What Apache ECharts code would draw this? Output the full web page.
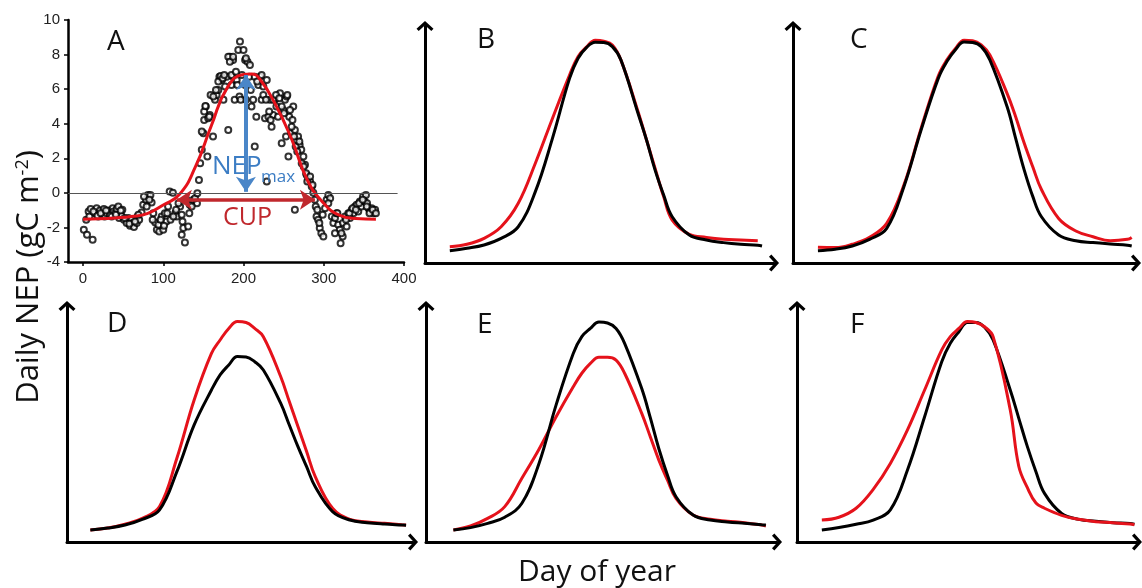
<!DOCTYPE html>
<html><head><meta charset="utf-8">
<script src="https://cdn.jsdelivr.net/npm/echarts@6/dist/echarts.min.js"></script>
<style>html,body{margin:0;padding:0;background:#fff}#chart{width:1142px;height:588px}</style>
</head><body><div id="chart"></div>
<script>
// ---------- DATA ----------
const panelLetters = ['A', 'B', 'C', 'D', 'E', 'F'];
const xTicksA = [0, 100, 200, 300, 400];

// Panel A: observed daily NEP (day of year, gC m-2)
const scatterDays = [1,5,12,4,7,9.5,15,17,19,21,23,26,27,29.5,31.6,33.6,37,38,40,42,44,45,48,49,51,54.4,56.5,58.6,60.6,62,63.5,67,68,70,73,75,78.5,81,84,85.5,87.6,90,92,95,98,100,102,104,106,108,112,115,117,121,123,124,125,123,127,131,133,137.5,142,144.5,146,148,150,151,153,155,156,158,162,164.5,166.5,168.6,170,173,175,177,179,181,183,185,187,187,189,191.5,193.5,195,195.6,198,200,202,203,205,208,210,212,214,216,218.5,220.6,222.6,224.7,226.8,229,229,231,233,235,237,239,241,243,245.5,247.6,249.6,251.7,253.8,256,257,259,261,262,264,264,266,268,270,272,274.6,276.6,278.7,280.8,283,285,287,289,290,291,293,295,297,299.5,301.6,303.6,305.7,308,310,312,314,316,318,320,321,323.6,324,326.5,328.5,330.6,332.7,334.8,337,339,341,343,345,347,349,351,352.6,354,355.6,357.6,359.7,362,364,
  148,151,152.5,157.4,159,162.4,165.7,168.6,171.5,174,176,181,183,185,187,190.6,192.3,196.5,202,203,207,209,
  214,217,222.6,224.7,228,232,233.8,237,240.5,244.6,247.6,250.5,253,254.6,258,260,263,265,267,269.6,272.5,275,278,279.5,283,286,
  8,13,18,22,28.7,35.7,41,47,52,57.7,64.8,69,76,79.3,82.7,86.8,94,96.8,101,105,109,112.6,116,119,129,132.5,135.4,139.6,142.5,
  292,294.5,298.7,305.7,314,317,322,327.7,332,336,340,344,348.5,353.5,357,361,365];
const scatterNEP = [-2.14,-2.43,-2.72,-1.56,-1.08,-0.94,-1.18,-0.89,-1.37,-1.02,-1.27,-0.94,-1.37,-1.18,-1.02,-1.27,-0.89,-1.08,-1.18,-0.94,-0.79,-1.46,-1.33,-0.98,-1.56,-1.75,-1.46,-1.91,-1.56,-1.75,-1.98,-1.75,-1.37,-1.56,-1.14,-0.69,-0.40,-0.12,-0.12,-0.56,-1.18,-1.71,-2.14,-2.24,-1.37,-2.14,-1.18,-1.66,-0.79,0.08,0,-1.18,-1.37,-0.79,-1.27,-1.66,-2.04,-2.43,-2.87,-1.95,-0.69,-0.40,-0.60,0.75,1.71,2.49,3.45,4.22,4.99,2.10,4.32,4.51,3.26,5.38,5.66,5.95,6.72,6.53,5.38,6.15,6.72,3.64,7.88,6.24,7.69,6.72,5.38,6.53,8.27,5.57,8.75,6.82,8.27,7.69,5.38,7.59,7.40,4.99,5.38,2.68,4.41,6.24,6.72,5.38,5.66,4.32,6.53,0.66,4.41,5.38,3.83,4.51,5.38,4.99,4.41,5.76,2.87,4.80,5.38,5.57,2.10,4.41,3.45,4.22,4.99,-0.98,3.64,3.06,3.26,2.77,2.49,2.10,1.62,1.04,0.75,0.66,0.37,0,-0.40,-0.79,-1.37,-1.56,-2.04,-2.33,-2.52,-0.89,-0.40,-0.12,-0.31,-1.37,-1.75,-1.46,-1.18,-1.85,-2.14,-2.91,-2.52,-1.75,-1.37,-1.95,-1.18,-1.46,-0.98,-1.18,-0.79,-0.69,-1.08,-0.50,-0.79,-0.21,-0.50,-0.12,-0.60,-0.89,-1.08,-0.89,-1.18,-0.98,
  3.55,4.70,5.03,4.41,5.66,5.57,5.95,6.44,6.76,6.63,6.82,7.88,7.59,6.82,7.88,7.01,6.24,5.38,6.24,7.78,6.72,5.95,
  6.72,6.44,6.82,6.15,5.38,4.70,4.22,5.38,5.66,5.47,4.99,4.61,3.26,5.66,4.80,3.83,3.26,2.68,2.39,2.97,1.71,1.52,1.14,0.66,0.94,0.46,
  -1.37,-1.08,-1.33,-1.18,-1.02,-1.37,-1.27,-1.02,-1.46,-1.79,-1.66,-1.27,-0.21,-0.79,-0.40,-1.56,-1.85,-1.56,-1.91,-1.18,-1.56,-1.37,-0.98,-0.60,-0.40,-1.18,-0.79,-0.31,-0.02,
  -0.98,-1.75,-1.27,-0.60,-2.33,-1.18,-2.33,-1.56,-1.18,-0.89,-0.98,-0.60,-0.40,-0.79,-1.18,-0.98,-1.18];

// Panel A: fitted curve
const fitDays = [0,20,40,60,80,100,120,140,160,180,200,210,220,240,260,280,300,320,340,365];
const fitNEP = [-1.52,-1.5,-1.45,-1.37,-1.2,-0.7,-0.1,1.5,3.9,6.1,6.85,6.88,6.6,5.1,3.1,0.7,-0.6,-1.3,-1.48,-1.52];

// Panel A annotations (data coordinates, arrow tips): NEPmax [day, top, bottom], CUP [start, end, level]
const nepMaxArrow = [203, 6.82, 0.06];
const cupArrow = [117, 289, -0.4];

// Panels B-F: schematic curves (black = reference, red = altered)
const curveDays = [0,20,40,60,80,100,120,140,150,160,170,180,190,200,220,230,240,250,260,280,300,320,340,360,365];
const blackB = [0.52,0.62,0.76,1.04,1.53,3.01,5.26,7.79,8.64,9.10,9.31,9.30,9.13,8.57,6.32,5.19,3.92,2.87,1.95,1.18,0.97,0.86,0.79,0.75,0.72];
const redB   = [0.69,0.79,1.04,1.53,2.52,4.21,6.10,7.93,8.71,9.12,9.40,9.36,9.20,8.57,6.39,5.19,3.99,2.80,1.81,1.21,1.08,1.00,0.97,0.94];
const blackC = [0.52,0.58,0.72,1.00,1.46,3.22,5.61,7.79,8.50,9.00,9.32,9.30,9.13,8.57,6.60,5.26,3.92,2.80,1.95,1.18,0.94,0.86,0.80,0.75,0.72];
const redC   = [0.66,0.65,0.79,1.08,1.67,3.29,5.68,7.89,8.57,9.05,9.40,9.38,9.20,8.78,7.16,6.17,5.05,4.05,3.10,1.88,1.35,1.11,0.94,1.00,1.08];
const blackD = [0.51,0.59,0.72,0.96,1.36,2.98,4.96,6.44,7.08,7.50,7.86,7.84,7.64,7.29,5.88,4.96,4.04,3.19,2.34,1.29,0.93,0.82,0.76,0.72,0.71];
const redD   = [0.51,0.59,0.75,1.00,1.50,3.55,6.02,7.99,8.56,9.05,9.34,9.30,9.05,8.70,7.01,5.95,4.89,3.83,2.77,1.43,0.96,0.85,0.79,0.73,0.72];
const blackE = [0.51,0.61,0.79,1.05,1.64,3.33,5.81,7.99,8.70,9.05,9.32,9.28,9.05,8.42,6.50,5.27,3.95,2.84,1.92,1.14,0.93,0.85,0.79,0.73,0.72];
const redE   = [0.51,0.68,1.00,1.50,2.70,3.93,5.31,6.58,7.15,7.57,7.83,7.83,7.71,7.15,5.45,4.46,3.47,2.63,1.85,1.14,0.96,0.88,0.82,0.72,0.68];
const blackF = [0.51,0.61,0.75,0.93,1.36,3.05,5.31,7.64,8.42,8.91,9.30,9.30,9.10,8.56,6.44,5.24,4.04,2.98,2.06,1.21,0.96,0.88,0.82,0.78,0.75];
const redF   = [0.93,1.05,1.43,2.23,3.33,4.75,6.44,8.14,8.70,9.05,9.34,9.30,9.12,8.70,5.59,3.20,2.30,1.65,1.43,1.13,0.96,0.86,0.82,0.76,0.73];

const axisTitleY = 'Daily NEP (gC m';
const axisTitleYSup = '-2';
const axisTitleX = 'Day of year';

// ---------- LAYOUT ----------
const layout = [
  {left: 68,  top: 20,  width: 336, height: 242, xMin: -18.7, xMax: 400, yMin: -4, yMax: 10},
  {left: 425, top: 26,  width: 349, height: 237, xMin: -29, xMax: 379, yMin: 0, yMax: 10},
  {left: 793, top: 26,  width: 343, height: 237, xMin: -29, xMax: 370, yMin: 0, yMax: 10},
  {left: 67,  top: 306, width: 346, height: 236, xMin: -27, xMax: 373, yMin: 0, yMax: 10},
  {left: 426, top: 306, width: 351, height: 236, xMin: -32, xMax: 378, yMin: 0, yMax: 10},
  {left: 797, top: 306, width: 340, height: 236, xMin: -29, xMax: 368, yMin: 0, yMax: 10}
];
const letterPos = [[107, 42], [477, 40], [850, 40], [107, 324], [477, 325], [850, 325]];
const zeroLineEnd = 392;

const RED = '#E5121B';
const CHEVRON = 'path://M0,9L10,0L20,9L17.4,11.8L10,5L2.6,11.8Z';
const FONT = '"Open Sans", sans-serif';

const pairs = (xs, ys) => ys.map((v, i) => [xs[i], v]);

const grids = layout.map(l => ({left: l.left, top: l.top, width: l.width, height: l.height, containLabel: false}));

const xAxes = layout.map((l, i) => {
  if (i === 0) {
    return {
      gridIndex: 0, type: 'value', min: l.xMin, max: l.xMax,
      axisLine: {show: true, onZero: false, lineStyle: {color: '#000', width: 2.5}},
      axisTick: {show: true, length: 4, customValues: xTicksA, lineStyle: {color: '#000', width: 1.5}},
      axisLabel: {customValues: xTicksA, color: '#222', fontSize: 15, fontFamily: '"Liberation Sans", Arial, sans-serif', margin: 9},
      splitLine: {show: false}
    };
  }
  return {
    gridIndex: i, type: 'value', min: l.xMin, max: l.xMax,
    axisLine: {show: true, onZero: false, symbol: ['none', CHEVRON], symbolSize: [17, 12],
      lineStyle: {color: '#000', width: 3}},
    axisTick: {show: false}, axisLabel: {show: false}, splitLine: {show: false}
  };
});

const yAxes = layout.map((l, i) => {
  if (i === 0) {
    return {
      gridIndex: 0, type: 'value', min: l.yMin, max: l.yMax, interval: 2,
      axisLine: {show: true, onZero: false, lineStyle: {color: '#000', width: 2.5}},
      axisTick: {show: true, length: 4, lineStyle: {color: '#000', width: 1.5}},
      axisLabel: {color: '#222', fontSize: 15, fontFamily: '"Liberation Sans", Arial, sans-serif', margin: 8},
      splitLine: {show: false}
    };
  }
  return {
    gridIndex: i, type: 'value', min: l.yMin, max: l.yMax,
    axisLine: {show: true, onZero: false, symbol: ['none', CHEVRON], symbolSize: [17, 12],
      lineStyle: {color: '#000', width: 3}},
    axisTick: {show: false}, axisLabel: {show: false}, splitLine: {show: false}
  };
});

const curvePanels = [
  {black: blackB, red: redB, redOnTop: false},
  {black: blackC, red: redC, redOnTop: false},
  {black: blackD, red: redD, redOnTop: false},
  {black: blackE, red: redE, redOnTop: false},
  {black: blackF, red: redF, redOnTop: true}
];

const series = [
  {
    type: 'scatter', xAxisIndex: 0, yAxisIndex: 0,
    data: pairs(scatterDays, scatterNEP),
    symbol: 'emptyCircle', symbolSize: 6,
    itemStyle: {color: '#000', borderColor: '#1a1a1a', borderWidth: 0.9},
    z: 2,
    markLine: {
      silent: true, symbol: 'none', label: {show: false},
      lineStyle: {color: '#555', width: 1, type: 'solid'},
      data: [[{coord: [layout[0].xMin, 0]}, {coord: [zeroLineEnd, 0]}]]
    }
  },
  {
    type: 'line', xAxisIndex: 0, yAxisIndex: 0,
    data: pairs(fitDays, fitNEP), smooth: true, showSymbol: false,
    lineStyle: {color: RED, width: 3}, z: 3,
    markLine: {
      silent: true, symbol: ['arrow', 'arrow'], symbolSize: 15, label: {show: false},
      data: [
        [{coord: [nepMaxArrow[0], nepMaxArrow[1]], lineStyle: {color: '#4A86C8', width: 4, type: 'solid'}, itemStyle: {color: '#4A86C8'}},
         {coord: [nepMaxArrow[0], nepMaxArrow[2]]}],
        [{coord: [cupArrow[0], cupArrow[2]], lineStyle: {color: '#C0282D', width: 3.5, type: 'solid'}, itemStyle: {color: '#C0282D'}},
         {coord: [cupArrow[1], cupArrow[2]]}]
      ]
    }
  }
];

curvePanels.forEach((p, k) => {
  const idx = k + 1;
  const blackS = {type: 'line', xAxisIndex: idx, yAxisIndex: idx, data: pairs(curveDays, p.black),
    smooth: 0.4, showSymbol: false, lineStyle: {color: '#000', width: 3}, z: p.redOnTop ? 2 : 3};
  const redS = {type: 'line', xAxisIndex: idx, yAxisIndex: idx, data: pairs(curveDays, p.red),
    smooth: 0.4, showSymbol: false, lineStyle: {color: RED, width: 3}, z: p.redOnTop ? 3 : 2};
  series.push(redS, blackS);
});

const graphic = [];
panelLetters.forEach((t, i) => {
  graphic.push({type: 'text', x: letterPos[i][0], y: letterPos[i][1], silent: true,
    style: {text: t, font: '28px ' + FONT, fill: '#111', verticalAlign: 'middle', align: 'left'}});
});
graphic.push(
  {type: 'text', x: 212, y: 167, silent: true, z: 10, style: {text: 'NEP', font: '26px ' + FONT, fill: '#3C7DC4', verticalAlign: 'middle'}},
  {type: 'text', x: 261, y: 177.5, silent: true, z: 10, style: {text: 'max', font: '17px ' + FONT, fill: '#3C7DC4', verticalAlign: 'middle'}},
  {type: 'text', x: 223, y: 217.5, silent: true, z: 10, style: {text: 'CUP', font: '25px ' + FONT, fill: '#C0282D', verticalAlign: 'middle'}},
  {type: 'text', x: 597, y: 572, silent: true, style: {text: axisTitleX, font: '30px ' + FONT, fill: '#111', align: 'center', verticalAlign: 'middle'}},
  {type: 'text', x: 29, y: 277, rotation: Math.PI / 2, silent: true,
    style: {text: '{a|' + axisTitleY + '}{s|' + axisTitleYSup + '}{a|)}', fill: '#111', align: 'center', verticalAlign: 'middle',
      rich: {a: {font: '31px ' + FONT, fill: '#111'}, s: {font: '18px ' + FONT, fill: '#111', verticalAlign: 'top'}}}}
);

const chart = echarts.init(document.getElementById('chart'), null, {renderer: 'canvas'});
chart.setOption({
  animation: false,
  backgroundColor: '#fff',
  grid: grids, xAxis: xAxes, yAxis: yAxes, series: series, graphic: graphic
});
</script></body></html>
